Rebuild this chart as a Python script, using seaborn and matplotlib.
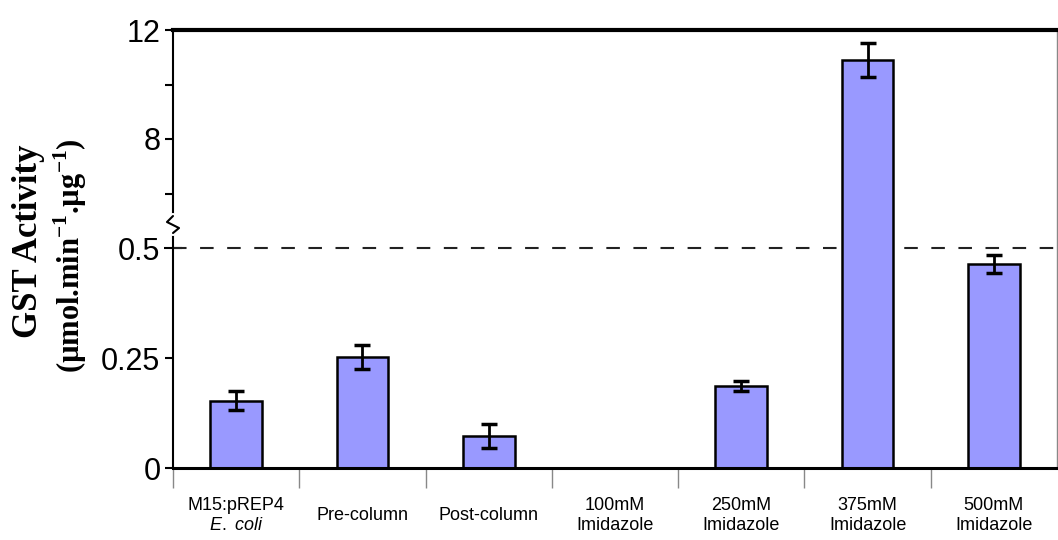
import numpy as np
import matplotlib
matplotlib.use("Agg")
import matplotlib.pyplot as plt
import seaborn as sns

# DATA
groups = ["M15:pREP4", "Pre-column", "Post-column", "100mM", "250mM", "375mM", "500mM"]
group_labels = ["M15:pREP4\n$\\mathit{E.}$ $\\mathit{coli}$", "Pre-column", "Post-column",
                "100mM\nImidazole", "250mM\nImidazole", "375mM\nImidazole", "500mM\nImidazole"]
activity = [0.153, 0.253, 0.073, 0.0, 0.186, 10.9, 0.464]
activity_err = [0.021, 0.027, 0.027, 0.0, 0.012, 0.62, 0.02]

y_major = [0, 0.25, 0.5, 8, 12]
y_major_labels = ["0", "0.25", "0.5", "8", "12"]
y_minor = [6, 10]

# STYLE
sns.set_theme(style="white")
plt.rcParams["font.family"] = ["Liberation Sans", "DejaVu Sans"]
plt.rcParams["mathtext.fontset"] = "custom"
plt.rcParams["mathtext.rm"] = "Liberation Sans"
plt.rcParams["mathtext.it"] = "Liberation Sans:italic"
plt.rcParams["mathtext.bf"] = "Liberation Serif:bold"

# broken y axis: 0-0.5 stretched, 4-12 compressed, gap in between
LOW_TOP, HIGH_BOTTOM = 0.5, 4.0
LOW_PX, HIGH_PX = 440.0, 27.25


def fwd(y):
    y = np.asarray(y, dtype=float)
    return np.minimum(y, LOW_TOP) * LOW_PX + np.maximum(y - HIGH_BOTTOM, 0) * HIGH_PX


def inv(u):
    u = np.asarray(u, dtype=float)
    cut = LOW_TOP * LOW_PX
    return np.where(u <= cut, u / LOW_PX, HIGH_BOTTOM + (u - cut) / HIGH_PX)


fig = plt.figure(figsize=(10.58, 5.4), dpi=100)
ax = fig.add_axes([173 / 1058, 72 / 540, 884 / 1058, 438 / 540])

sns.barplot(x=groups, y=activity, color="#9999ff", saturation=1, width=0.41,
            edgecolor="black", linewidth=1.8, ax=ax, zorder=2)

x_pos = np.arange(len(groups))
err = np.array(activity_err)
has_err = err > 0
ax.errorbar(x_pos[has_err], np.array(activity)[has_err], yerr=err[has_err],
            fmt="none", ecolor="black", elinewidth=2, capsize=6, capthick=2.5, zorder=3)

ax.set_yscale("function", functions=(fwd, inv))
ax.set_xlim(-0.5, len(groups) - 0.5)
ax.set_ylim(0, 12)

ax.axhline(0.5, color="#222222", lw=1.5, dashes=(6.5, 6.5), zorder=1)

# x axis: tick marks between groups, labels centred under bars
ax.set_xticks(np.arange(-0.5, len(groups) - 1, 1.0))
ax.set_xticklabels([])
ax.set_xticks(x_pos, group_labels, minor=True, va="center", fontsize=13)
ax.tick_params(axis="x", which="major", length=14.5, width=1, color="#888888",
               direction="out", bottom=True)
ax.tick_params(axis="x", which="minor", length=0, pad=34, bottom=True,
               labelcolor="black")

# y axis
ax.set_yticks(y_major, y_major_labels)
ax.set_yticks(y_minor, minor=True)
ax.tick_params(axis="y", which="both", length=6, width=1.5, direction="out",
               labelsize=22, pad=3, left=True, color="black", labelcolor="black")
half_tick = ax.yaxis.get_major_ticks()[2]
half_tick.tick1line.set_marker("_")
half_tick.tick1line.set_markersize(13)

ax.set_xlabel("")
ax.set_ylabel("")

for side, lw, col in [("top", 3, "black"), ("left", 1.5, "black"),
                      ("bottom", 2.2, "black"), ("right", 1, "#888888")]:
    ax.spines[side].set_linewidth(lw)
    ax.spines[side].set_color(col)

# break mark on the y axis
ax.plot([0, 0], [0.535, 0.577], transform=ax.transAxes, color="white", lw=3,
        clip_on=False, zorder=5)
ax.plot([0, -0.0068, 0.0068, 0], [0.5753, 0.5616, 0.5479, 0.5365],
        transform=ax.transAxes, color="black", lw=1.5, clip_on=False, zorder=6)

# y label, two lines in bold serif
serif = ["Liberation Serif", "DejaVu Serif"]
fig.text(29 / 1058, 0.553, "GST Activity", rotation=90, ha="center", va="center",
         fontsize=25, fontweight="bold", family=serif, color="black")
fig.text(70 / 1058, 0.527, "(µmol.min$^{\\mathbf{-1}}$.µg$^{\\mathbf{-1}}$)", rotation=90,
         ha="center", va="center", fontsize=22, fontweight="bold", family=serif,
         color="black")

fig.savefig("out.png", dpi=100)
